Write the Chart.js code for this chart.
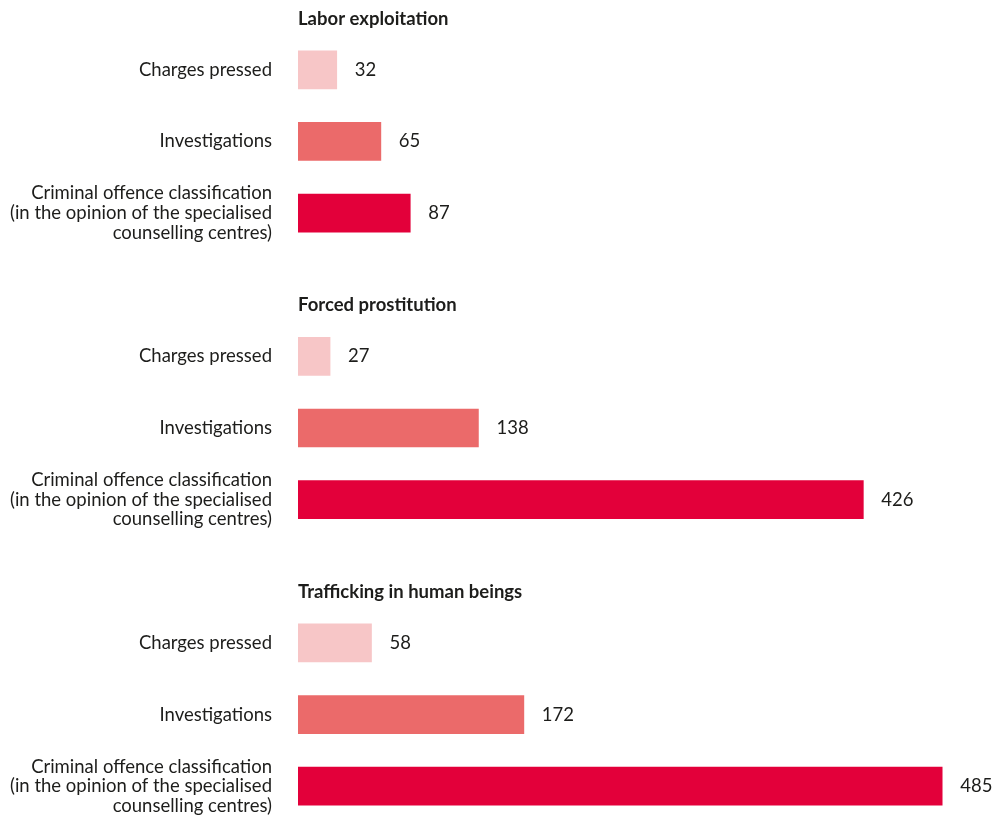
<!DOCTYPE html>
<html>
<head>
<meta charset="utf-8">
<script src="https://cdn.jsdelivr.net/npm/chart.js@4"></script>
<style>
  html, body { margin: 0; padding: 0; background: #fff; overflow: hidden; }
  #wrap { position: relative; width: 1005px; height: 822px; }
</style>
</head>
<body>
<div id="wrap"><canvas id="myChart"></canvas></div>
<script>
const groupTitles = ['Labor exploitation', 'Forced prostitution', 'Trafficking in human beings'];
const measures = [
    'Charges pressed',
    'Investigations',
    ['Criminal offence classification', '(in the opinion of the specialised', 'counselling centres)']
];
const laborValues = [32, 65, 87];
const prostitutionValues = [27, 138, 426];
const traffickingValues = [58, 172, 485];
const measureColors = ['#f7c6c7', '#eb6a6a', '#e3003a'];

const groups = [laborValues, prostitutionValues, traffickingValues];

// rows: one spacer row in front of every group except the first
const labels = [];
const values = [];
const colors = [];
const firstRow = [];
groups.forEach(function(vals, g) {
    if (g > 0) {
        labels.push('');
        values.push(null);
        colors.push('rgba(0,0,0,0)');
    }
    firstRow.push(labels.length);
    vals.forEach(function(v, i) {
        labels.push(measures[i]);
        values.push(v);
        colors.push(measureColors[i]);
    });
});

const textColor = '#1d1d1b';
const fontFamily = 'Lato, "Open Sans", sans-serif';
const fontSize = 18.5;

const annotate = {
    id: 'annotate',
    afterDatasetsDraw(chart) {
        const ctx = chart.ctx;
        const yScale = chart.scales.y;
        const meta = chart.getDatasetMeta(0);
        ctx.save();
        ctx.fillStyle = textColor;
        ctx.textBaseline = 'middle';
        ctx.textAlign = 'left';
        ctx.font = fontSize + 'px ' + fontFamily;
        meta.data.forEach(function(bar, i) {
            if (values[i] === null) return;
            ctx.fillText(String(values[i]), bar.x + 18, bar.y);
        });
        ctx.font = 'bold ' + fontSize + 'px ' + fontFamily;
        firstRow.forEach(function(row, g) {
            const y = yScale.getPixelForValue(row) - 51;
            ctx.fillText(groupTitles[g], chart.chartArea.left, y);
        });
        ctx.restore();
    }
};

const ctx = document.getElementById('myChart').getContext('2d');
new Chart(ctx, {
    type: 'bar',
    data: {
        labels: labels,
        datasets: [{
            data: values,
            backgroundColor: colors,
            barThickness: 38,
            clip: 0
        }]
    },
    options: {
        indexAxis: 'y',
        responsive: true,
        maintainAspectRatio: false,
        animation: false,
        layout: { padding: { top: 34, right: 0, bottom: 0, left: 0 } },
        plugins: {
            legend: { display: false },
            tooltip: { enabled: false }
        },
        scales: {
            x: {
                display: false,
                min: 3,
                max: 532
            },
            y: {
                grid: { display: false, drawTicks: false },
                border: { display: false },
                ticks: {
                    color: textColor,
                    padding: 26,
                    font: { family: fontFamily, size: fontSize, lineHeight: 1.06 }
                },
                afterFit(scale) {
                    scale.width = 298;
                    scale.paddingTop = 0;
                    scale.paddingBottom = 0;
                }
            }
        }
    },
    plugins: [annotate]
});
</script>
</body>
</html>
